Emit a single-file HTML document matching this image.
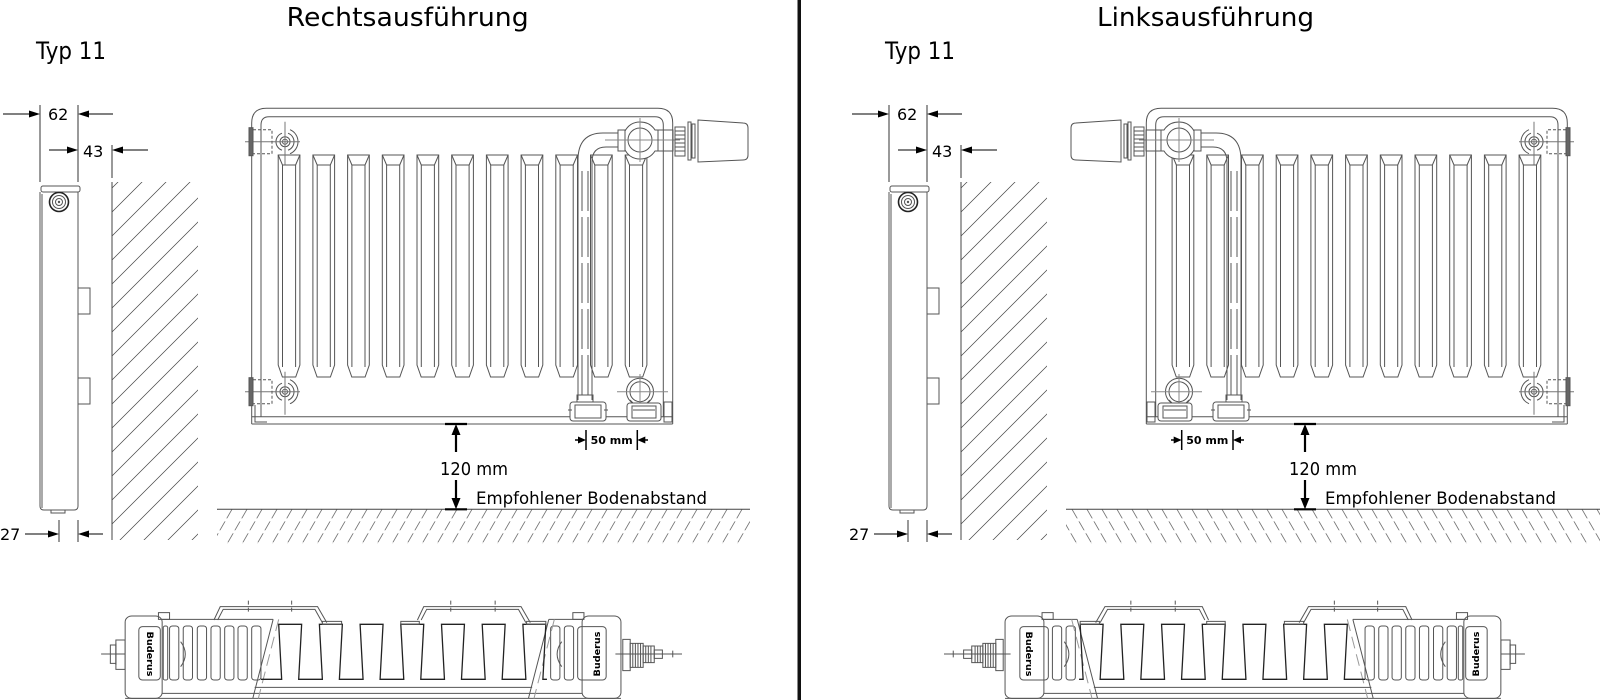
<!DOCTYPE html>
<html><head><meta charset="utf-8">
<style>
html,body{margin:0;padding:0;background:#fff;}
svg{display:block}
.g{fill:none;stroke:#555;stroke-width:1}
.bv *{vector-effect:non-scaling-stroke}
text{font-family:"DejaVu Sans","Liberation Sans",sans-serif;fill:#000}
</style></head><body>
<svg width="1600" height="700" viewBox="0 0 1600 700" xmlns="http://www.w3.org/2000/svg">
<defs>
  <pattern id="wh" patternUnits="userSpaceOnUse" width="24" height="24" patternTransform="skewX(-45)">
    <line x1="12" y1="0" x2="12" y2="24" stroke="#444" stroke-width="1"/>
  </pattern>
  <pattern id="fhL" patternUnits="userSpaceOnUse" width="15" height="34" patternTransform="translate(0,509.3) skewX(-30)">
    <line x1="7" y1="0" x2="7" y2="34" stroke="#777" stroke-width="1" stroke-dasharray="9 3"/>
  </pattern>
  <pattern id="fhR" patternUnits="userSpaceOnUse" width="15" height="34" patternTransform="translate(0,509.3) skewX(30)">
    <line x1="7" y1="0" x2="7" y2="34" stroke="#777" stroke-width="1" stroke-dasharray="9 3"/>
  </pattern>

  <g id="fin" class="g">
    <path d="M0,365 V155 H21.7 V365 L17.5,377 H4.2 Z"/>
    <path d="M4.3,367 V165 H17.4 V367"/>
    <path d="M0,155 L4.3,165 M21.7,155 L17.4,165"/>
  </g>

  <g id="vf" class="g">
    <circle r="2.5"/>
    <circle r="5"/>
    <path d="M3,-8.5 A9,9 0 0 1 3,8.5 M5,-12 A13,13 0 0 1 5,12 M-3,-8.5 A9,9 0 0 0 -3,8.5"/>
    <path d="M-40,0 H15 M0,-20 V23" stroke="#777"/>
    <rect x="-36" y="-14" width="4" height="28" fill="#666"/>
    <rect x="-32" y="-12" width="19" height="24" stroke-dasharray="3 2"/>
  </g>

  <g id="fv">
    <g class="g">
      <path d="M251.7,424 V123 Q251.7,108.3 266.4,108.3 H658 Q672.7,108.3 672.7,123 V424"/>
      <path d="M261,417 V125 Q261,116.7 269,116.7 H655 Q663.3,116.7 663.3,125 V417"/>
      <path d="M251.7,416.7 H672.7 M251.7,424 H672.7"/>
      <path d="M255,405 V422 H267"/>
    </g>
    <use href="#fin" x="278.2"/>
    <use href="#fin" x="312.9"/>
    <use href="#fin" x="347.6"/>
    <use href="#fin" x="382.3"/>
    <use href="#fin" x="417.0"/>
    <use href="#fin" x="451.7"/>
    <use href="#fin" x="486.4"/>
    <use href="#fin" x="521.1"/>
    <use href="#fin" x="555.8"/>
    <use href="#fin" x="590.5"/>
    <use href="#fin" x="625.2"/>
    <use href="#vf" x="285" y="141.7"/>
    <use href="#vf" x="285" y="391.7"/>
    <g class="g">
      <path d="M578,400 V160 Q578,133 603,133 H618"/>
      <path d="M592,400 V162 Q592,147 606,147 H618"/>
      <path d="M582,395 V165 M588,395 V165" stroke-dasharray="40 6"/>
      <rect x="618" y="130" width="7" height="21"/>
      <path d="M625,131 Q630,122 640,122 Q650,122 655,130 H658 V151 H655 Q650,159 640,159 Q630,159 625,150 Z" fill="#fff"/>
      <circle cx="640" cy="140" r="12"/>
      <path d="M605,140 H680 M640,118 V162" stroke="#888"/>
      <rect x="658" y="130" width="15" height="21"/>
      <rect x="675" y="127" width="10" height="29"/>
      <path d="M675,131 H685 M675,135 H685 M675,139 H685 M675,143 H685 M675,147 H685 M675,151 H685"/>
      <rect x="688" y="122" width="3" height="38"/>
      <rect x="692" y="124" width="3" height="34"/>
      <path d="M698,120 L743,123 Q748,123 748,128 V155 Q748,160 743,160 L698,162 Z" fill="#fff"/>
      <circle cx="640" cy="391.7" r="13.5" fill="#fff"/>
      <circle cx="640" cy="391.7" r="10"/>
      <path d="M617,391.7 H668 M640,374 V410" stroke="#888"/>
      <rect x="577" y="395" width="16" height="7"/>
      <rect x="570" y="402" width="36" height="19" rx="3" fill="#fff"/>
      <rect x="575" y="405" width="26" height="13"/>
      <path d="M568,410 H572 M604,410 H608"/>
      <path d="M630,400 L634,404 M650,400 L646,404"/>
      <rect x="627" y="403" width="34" height="18" rx="3" fill="#fff"/>
      <rect x="632" y="406" width="24" height="12"/>
      <path d="M633,410 H655"/>
      <rect x="664" y="402" width="8" height="20"/>
    </g>
    <g stroke="#000" stroke-width="1.5" fill="none">
      <path d="M586,430 V450 M637.3,430 V450 M575,440 H581 M643,440 H648"/>
    </g>
    <polygon points="586,440 578,436.5 578,443.5" fill="#000"/>
    <polygon points="637.3,440 645.3,436.5 645.3,443.5" fill="#000"/>
  </g>

  <g id="sv">
    <g class="g">
      <rect x="41" y="186" width="39" height="6" rx="2"/>
      <path d="M40,192 V506 Q40,510 44,510 H74 Q78,510 78,506 V192"/>
      <path d="M42,194 V508"/>
      <rect x="51" y="510" width="14" height="3"/>
      <rect x="78" y="288" width="12" height="26"/>
      <rect x="78" y="378" width="12" height="26"/>
    </g>
    <circle cx="59" cy="202" r="9.5" fill="#fff" stroke="#222" stroke-width="1.6"/>
    <circle cx="59" cy="202" r="6.5" fill="none" stroke="#555"/>
    <circle cx="59" cy="202" r="3.5" fill="none" stroke="#555"/>
    <circle cx="59" cy="202" r="1.2" fill="#555"/>
    <rect x="112" y="182" width="86" height="358" fill="url(#wh)"/>
    <path d="M112,182 V540" stroke="#444" stroke-width="1"/>
    <g stroke="#333" stroke-width="1" fill="none">
      <path d="M40,105 V182 M78,105 V182 M112,145 V178 M59,520 V542 M78,520 V542"/>
    </g>
    <g stroke="#000" stroke-width="1" fill="none">
      <path d="M3,114 H31 M88,114 H113 M49,150 H68 M122,150 H148 M25,534 H50 M88,534 H103"/>
    </g>
    <g fill="#000">
      <polygon points="40,114 29,110.5 29,117.5"/>
      <polygon points="78,114 89,110.5 89,117.5"/>
      <polygon points="78,150 67,146.5 67,153.5"/>
      <polygon points="112,150 123,146.5 123,153.5"/>
      <polygon points="59,534 48,530.5 48,537.5"/>
      <polygon points="78,534 89,530.5 89,537.5"/>
    </g>
  </g>

  <g id="ar">
    <path d="M445,424 H467 M445,509.3 H467 M456,432 V452 M456,480 V501" stroke="#000" stroke-width="2.2" fill="none"/>
    <polygon points="456,424 451.5,435 460.5,435" fill="#000"/>
    <polygon points="456,509.3 451.5,498 460.5,498" fill="#000"/>
  </g>

  <g id="bv" class="g bv" transform="translate(90,580) scale(0.37,0.3333)">
    <rect x="70" y="180" width="25" height="88"/>
    <rect x="55" y="195" width="15" height="55"/>
    <path d="M30,222 H100 M70,190 V255"/>
    <rect x="95" y="108" width="100" height="247" rx="18" fill="#fff"/>
    <rect x="1330" y="108" width="105" height="247" rx="18" fill="#fff"/>
    <rect x="132" y="140" width="58" height="160" rx="10"/>
    <rect x="1318" y="140" width="77" height="160" rx="10"/>
    <rect x="185" y="98" width="30" height="20"/>
    <rect x="1305" y="98" width="30" height="20"/>
    <path d="M195,118 H495 M1240,118 H1330 M95,355 H1435 M195,340 H1330"/>
    <rect x="198" y="138" width="12" height="162" rx="5"/>
    <rect x="215" y="138" width="25" height="162" rx="8"/>
    <rect x="252" y="138" width="25" height="162" rx="8"/>
    <rect x="290" y="138" width="25" height="162" rx="8"/>
    <rect x="327" y="138" width="25" height="162" rx="8"/>
    <rect x="364" y="138" width="25" height="162" rx="8"/>
    <rect x="400" y="138" width="25" height="162" rx="8"/>
    <rect x="437" y="138" width="25" height="162" rx="8"/>
    <rect x="1245" y="138" width="25" height="162" rx="8"/>
    <rect x="1282" y="138" width="25" height="162" rx="8"/>
    <path d="M495,118 L440,355 M1240,118 L1185,355"/>
    <path d="M510,118 L455,355 M1255,118 L1200,355" stroke-dasharray="12 6" stroke="#999"/>
    <path d="M462,298 H518 L510,133 H572 L564,298 H628 L620,133 H682 L674,298 H738 L730,133 H792 L784,298 H848 L840,133 H902 L894,298 H958 L950,133 H1012 L1004,298 H1068 L1060,133 H1122 L1114,298 H1178 L1170,133 H1232 L1224,298 H1235" stroke="#222" stroke-width="1.3"/>
    <path d="M445,322 H1195"/>
    <path d="M335,120 L352,80 H615 L640,128 M345,120 L360,88 H608 L628,128"/>
    <path d="M885,120 L902,80 H1165 L1190,128 M895,120 L910,88 H1158 L1178,128"/>
    <rect x="628" y="124" width="52" height="9"/>
    <rect x="1180" y="124" width="52" height="9"/>
    <rect x="840" y="124" width="50" height="9"/>
    <path d="M428,62 V102 M545,62 V102 M975,62 V102 M1095,62 V102" stroke-dasharray="4 3"/>
    <path d="M245,185 Q270,222 245,260 M1275,185 Q1250,222 1275,260"/>
    <rect x="1440" y="178" width="20" height="94"/>
    <rect x="1460" y="190" width="35" height="72"/>
    <path d="M1467,190 V262 M1474,190 V262 M1481,190 V262 M1488,190 V262"/>
    <rect x="1495" y="198" width="30" height="50"/>
    <path d="M1502,198 V248 M1509,198 V248 M1516,198 V248"/>
    <rect x="1525" y="210" width="22" height="25"/>
    <path d="M1420,222 H1600 M1575,212 V232"/>
  </g>
</defs>

<rect x="797.5" y="0" width="3.5" height="700" fill="#111"/>

<text x="407.7" y="26" font-size="26" text-anchor="middle" textLength="242" lengthAdjust="spacingAndGlyphs">Rechtsausführung</text>
<text x="36" y="59" font-size="24" textLength="70" lengthAdjust="spacingAndGlyphs">Typ 11</text>
<use href="#sv"/>
<text x="48" y="120" font-size="16">62</text>
<text x="83" y="157" font-size="16">43</text>
<text x="0" y="540" font-size="16">27</text>
<use href="#fv"/>
<text x="611.7" y="444" font-size="11" font-weight="bold" text-anchor="middle">50 mm</text>
<rect x="217" y="509.3" width="533" height="34" fill="url(#fhL)"/>
<path d="M217,509.3 H750" stroke="#444" stroke-width="1"/>
<use href="#ar"/>
<text x="440" y="475" font-size="18" textLength="68" lengthAdjust="spacingAndGlyphs">120 mm</text>
<text x="476" y="504" font-size="17" textLength="231" lengthAdjust="spacingAndGlyphs">Empfohlener Bodenabstand</text>
<use href="#bv"/>
<g font-size="9" font-weight="bold">
  <text transform="translate(147,654) rotate(90)" text-anchor="middle" textLength="45" lengthAdjust="spacingAndGlyphs" fill="#444">Buderus</text>
  <text transform="translate(600,654) rotate(-90)" text-anchor="middle" textLength="45" lengthAdjust="spacingAndGlyphs" fill="#444">Buderus</text>
</g>

<text x="1205.5" y="26" font-size="26" text-anchor="middle" textLength="217" lengthAdjust="spacingAndGlyphs">Linksausführung</text>
<text x="885" y="59" font-size="24" textLength="70" lengthAdjust="spacingAndGlyphs">Typ 11</text>
<use href="#sv" transform="translate(849,0)"/>
<text x="897" y="120" font-size="16">62</text>
<text x="932" y="157" font-size="16">43</text>
<text x="849" y="540" font-size="16">27</text>
<use href="#fv" transform="translate(1819,0) scale(-1,1)"/>
<text x="1207.3" y="444" font-size="11" font-weight="bold" text-anchor="middle">50 mm</text>
<rect x="1066" y="509.3" width="534" height="34" fill="url(#fhR)"/>
<path d="M1066,509.3 H1600" stroke="#444" stroke-width="1"/>
<use href="#ar" transform="translate(849,0)"/>
<text x="1289" y="475" font-size="18" textLength="68" lengthAdjust="spacingAndGlyphs">120 mm</text>
<text x="1325" y="504" font-size="17" textLength="231" lengthAdjust="spacingAndGlyphs">Empfohlener Bodenabstand</text>
<use href="#bv" transform="translate(1626,0) scale(-1,1)"/>
<g font-size="9" font-weight="bold">
  <text transform="translate(1479,654) rotate(-90)" text-anchor="middle" textLength="45" lengthAdjust="spacingAndGlyphs" fill="#444">Buderus</text>
  <text transform="translate(1026,654) rotate(90)" text-anchor="middle" textLength="45" lengthAdjust="spacingAndGlyphs" fill="#444">Buderus</text>
</g>
</svg>
</body></html>
